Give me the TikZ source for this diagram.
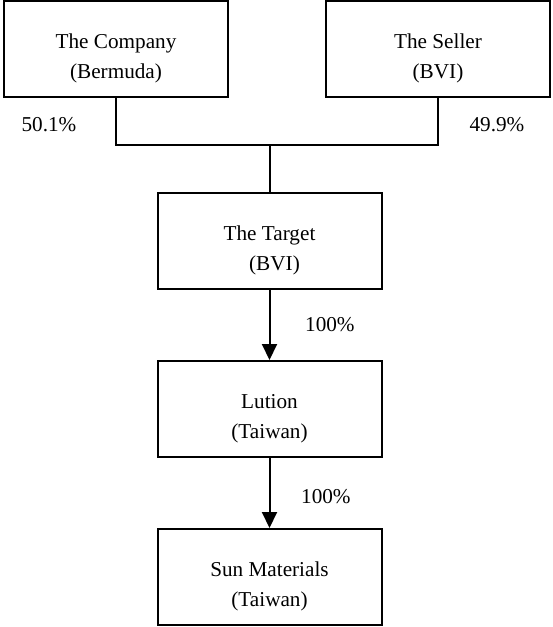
\documentclass[tikz,border=0pt]{standalone}
\usepackage{fontspec}
\setmainfont{Liberation Serif}
\usetikzlibrary{arrows.meta}

\newcommand{\twolines}[2]{\raisebox{-7pt}[0pt][0pt]{\begin{tabular}{@{}c@{}}#1\\#2\end{tabular}}}

\begin{document}
\begin{tikzpicture}[
	x=0.5pt, y=-0.5pt,
	font=\fontsize{10.6}{15}\selectfont,
	entity/.style={draw, line width=1pt, minimum width=112pt, minimum height=48pt, inner sep=0pt},
	link/.style={line width=1pt},
	own/.style={-{Triangle[width=7.5pt,length=8pt]}, line width=1pt},
	]
	\useasboundingbox (0,0) rectangle (552,627);

	%boxes
	\node[entity] (company) at (116,49) {\twolines{The Company}{(Bermuda)}};
	\node[entity] (seller) at (438,49) {\twolines{The Seller}{(BVI)}};
	\node[entity] (target) at (269.5,241) {\twolines{The Target}{\hspace{5pt}(BVI)}};
	\node[entity] (lution) at (269.5,409) {\twolines{Lution}{(Taiwan)}};
	\node[entity] (sun) at (269.5,577) {\twolines{Sun Materials}{(Taiwan)}};

	%lines
	\coordinate (join) at (269.5,145);
	\draw[link] (company.south) |- (join) -| (seller.south);
	\draw[link] (join) -- (target.north);

	%arrows
	\draw[own] (target) -- node[right=14pt] {100\%} (lution);
	\draw[own] (lution) -- node[right=12pt, yshift=-2pt] {100\%} (sun);

	%shares
	\node (pcompany) at (49,125) {50.1\%};
	\node (pseller) at (497,125) {49.9\%};
\end{tikzpicture}
\end{document}
